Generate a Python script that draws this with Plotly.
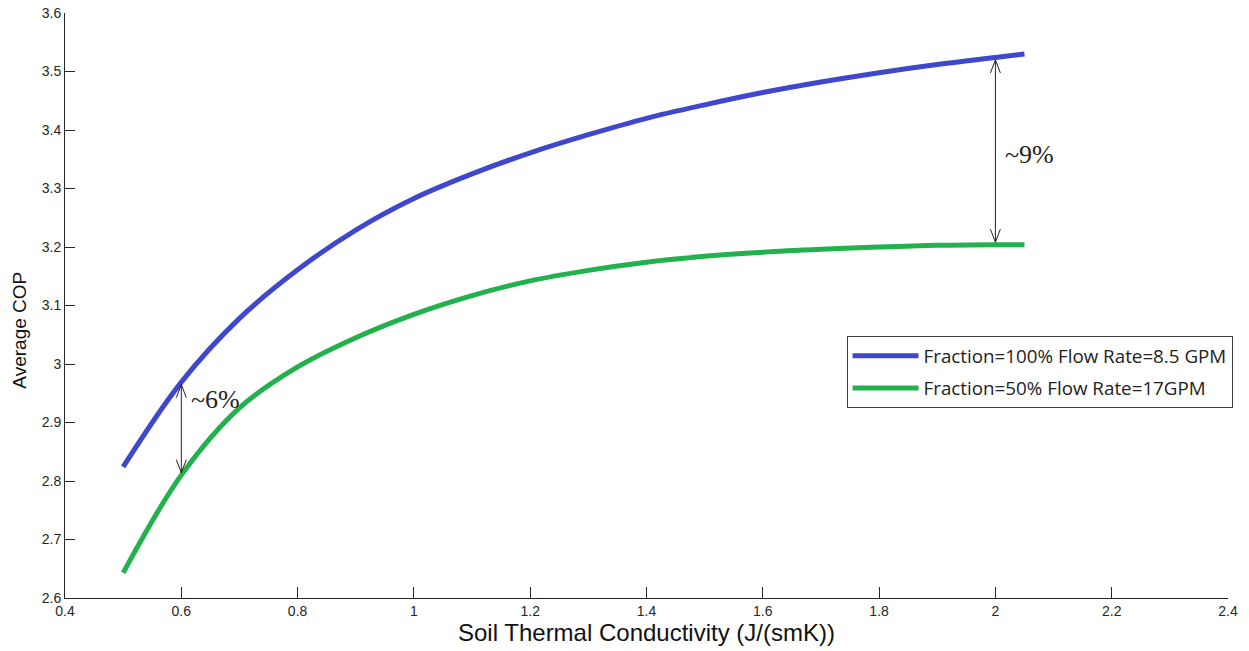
import plotly.graph_objects as go

# Soil thermal conductivity (J/(smK))
conductivity = [0.5, 0.6, 0.7, 0.8, 0.9, 1.0, 1.1, 1.2, 1.3, 1.4, 1.5, 1.6,
                1.7, 1.8, 1.9, 2.0, 2.05]

# Average COP, fraction 100%, 8.5 GPM
cop_full = [2.824, 2.969, 3.078, 3.161, 3.229, 3.283, 3.325, 3.361, 3.392, 3.420, 3.443, 3.464,
            3.482, 3.498, 3.512, 3.524, 3.530]

# Average COP, fraction 50%, 17 GPM
cop_half = [2.643, 2.810, 2.925, 2.995, 3.045, 3.085, 3.117, 3.142, 3.160, 3.174, 3.184, 3.191,
            3.196, 3.200, 3.203, 3.204, 3.204]

series_names = ["Fraction=100% Flow Rate=8.5 GPM", "Fraction=50% Flow Rate=17GPM"]
series_colors = ["#3F48CC", "#22B14C"]

# Where the gap between the two curves is marked
gap_x = [0.6, 2.0]
gap_labels = ["~6%", "~9%"]

x_ticks = [0.4, 0.6, 0.8, 1.0, 1.2, 1.4, 1.6, 1.8, 2.0, 2.2, 2.4]
x_tick_text = ["0.4", "0.6", "0.8", "1", "1.2", "1.4", "1.6", "1.8", "2", "2.2", "2.4"]
y_ticks = [2.6, 2.7, 2.8, 2.9, 3.0, 3.1, 3.2, 3.3, 3.4, 3.5, 3.6]
y_tick_text = ["2.6", "2.7", "2.8", "2.9", "3", "3.1", "3.2", "3.3", "3.4", "3.5", "3.6"]

X_RANGE = [0.4, 2.4]
Y_RANGE = [2.6, 3.6]
W, H = 1249, 651
M = dict(l=65, r=21, t=13, b=53)

fig = go.Figure()
for i, (vals, name, color) in enumerate(zip([cop_full, cop_half], series_names, series_colors)):
    fig.add_trace(go.Scatter(
        x=conductivity, y=vals, mode="lines", name=name,
        legendgroup=f"g{i}",
        line=dict(color=color, width=5, shape="spline", smoothing=1.0),
        hoverinfo="x+y",
    ))

# data units per pixel, used to size the open arrowheads
ux = (X_RANGE[1] - X_RANGE[0]) / (W - M["l"] - M["r"])
uy = (Y_RANGE[1] - Y_RANGE[0]) / (H - M["t"] - M["b"])
head_len, head_half = 13, 5


def value_at(xs, ys, xq):
    for k in range(len(xs) - 1):
        if xs[k] <= xq <= xs[k + 1]:
            t = (xq - xs[k]) / (xs[k + 1] - xs[k])
            return ys[k] + t * (ys[k + 1] - ys[k])
    return ys[-1]


shapes = []
annotations = []
arrow_style = dict(color="#222222", width=1)
label_yshift = [29, -3]
for gx, label, ys in zip(gap_x, gap_labels, label_yshift):
    top = value_at(conductivity, cop_full, gx) - 2.5 * uy
    bottom = value_at(conductivity, cop_half, gx) + 2.5 * uy
    shapes.append(dict(type="line", xref="x", yref="y", x0=gx, x1=gx, y0=bottom, y1=top, line=arrow_style))
    for sgn in (-1, 1):
        shapes.append(dict(type="line", xref="x", yref="y", x0=gx, y0=top,
                           x1=gx + sgn * head_half * ux, y1=top - head_len * uy, line=arrow_style))
        shapes.append(dict(type="line", xref="x", yref="y", x0=gx, y0=bottom,
                           x1=gx + sgn * head_half * ux, y1=bottom + head_len * uy, line=arrow_style))
    annotations.append(dict(
        x=gx, y=(top + bottom) / 2, xref="x", yref="y", text=label, showarrow=False,
        xanchor="left", yanchor="middle", xshift=8, yshift=ys,
        font=dict(family="Liberation Serif, Times New Roman, serif", size=26, color="#222222"),
    ))

# y-axis title, sitting slightly below the middle of the axis
annotations.append(dict(
    x=0, xref="paper", xanchor="center", xshift=-45,
    y=0.457, yref="paper", yanchor="middle",
    text="Average COP", textangle=-90, showarrow=False,
    font=dict(family="Liberation Sans, Arial, sans-serif", size=19, color="#111111"),
))

axis_font = dict(family="Liberation Sans, Arial, sans-serif", size=14, color="#262626")
fig.update_layout(
    width=W, height=H,
    margin=dict(l=M["l"], r=M["r"], t=M["t"], b=M["b"], pad=0),
    paper_bgcolor="white", plot_bgcolor="white",
    shapes=shapes, annotations=annotations,
    showlegend=True,
    legend=dict(
        x=0.672, y=0.448, xanchor="left", yanchor="top",
        bgcolor="white", bordercolor="#404040", borderwidth=1,
        font=dict(family="Open Sans, Noto Sans, sans-serif", size=18.8, color="#222222"),
        traceorder="grouped", tracegroupgap=5, itemwidth=66,
    ),
    xaxis=dict(
        range=X_RANGE, tickvals=x_ticks, ticktext=x_tick_text,
        showgrid=False, zeroline=False, showline=True, linecolor="#262626", linewidth=1,
        ticks="inside", ticklen=11, tickcolor="#262626", tickwidth=1,
        tickfont=axis_font, automargin=False,
        title=dict(text="Soil Thermal Conductivity (J/(smK))", standoff=5,
                   font=dict(family="Liberation Sans, Arial, sans-serif", size=24, color="#111111")),
    ),
    yaxis=dict(
        range=Y_RANGE, tickvals=y_ticks, ticktext=y_tick_text,
        showgrid=False, zeroline=False, showline=True, linecolor="#262626", linewidth=1,
        ticks="inside", ticklen=10, tickcolor="#262626", tickwidth=1,
        tickfont=axis_font, automargin=False,
    ),
)

fig.write_html("out.html")
